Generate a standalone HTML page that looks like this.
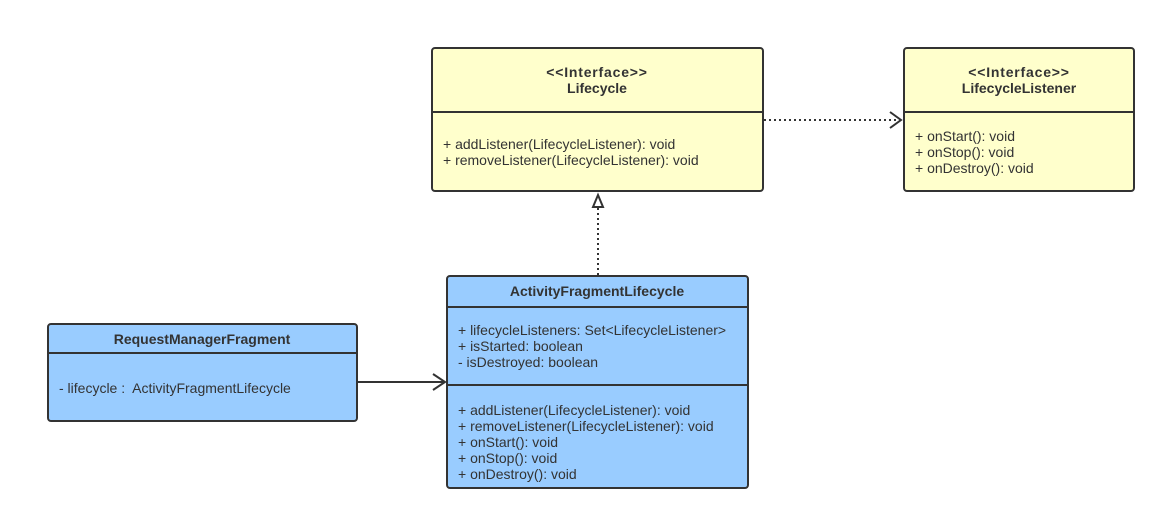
<!DOCTYPE html>
<html><head><meta charset="utf-8"><style>
html,body{margin:0;padding:0;background:#fff;}
svg text{font-family:"Liberation Sans","DejaVu Sans",sans-serif;font-size:14px;fill:#333;}
.b{font-weight:bold;}
.i{letter-spacing:0.8px;}
</style></head><body>
<svg width="1165" height="520" xmlns="http://www.w3.org/2000/svg">
<!-- Lifecycle -->
<rect x="432" y="48" width="331" height="143" rx="3" fill="#ffffcc" stroke="#333" stroke-width="2"/>
<line x1="432" y1="112" x2="763" y2="112" stroke="#333" stroke-width="2"/>
<text x="597" y="77" text-anchor="middle" class="b i">&lt;&lt;Interface&gt;&gt;</text>
<text x="597" y="93" text-anchor="middle" class="b">Lifecycle</text>
<text x="443" y="149">+ addListener(LifecycleListener): void</text>
<text x="443" y="165">+ removeListener(LifecycleListener): void</text>
<!-- LifecycleListener -->
<rect x="904" y="48" width="230" height="143" rx="3" fill="#ffffcc" stroke="#333" stroke-width="2"/>
<line x1="904" y1="112" x2="1134" y2="112" stroke="#333" stroke-width="2"/>
<text x="1019" y="77" text-anchor="middle" class="b i">&lt;&lt;Interface&gt;&gt;</text>
<text x="1019" y="93" text-anchor="middle" class="b">LifecycleListener</text>
<text x="915" y="141">+ onStart(): void</text>
<text x="915" y="157">+ onStop(): void</text>
<text x="915" y="173">+ onDestroy(): void</text>
<!-- AFL -->
<rect x="447" y="276" width="301" height="212" rx="3" fill="#99ccff" stroke="#333" stroke-width="2"/>
<line x1="447" y1="307" x2="748" y2="307" stroke="#333" stroke-width="2"/>
<line x1="447" y1="385" x2="748" y2="385" stroke="#333" stroke-width="2"/>
<text x="597" y="296" text-anchor="middle" class="b">ActivityFragmentLifecycle</text>
<text x="458" y="335">+ lifecycleListeners: Set&lt;LifecycleListener&gt;</text>
<text x="458" y="351">+ isStarted: boolean</text>
<text x="458" y="367">- isDestroyed: boolean</text>
<text x="458" y="415">+ addListener(LifecycleListener): void</text>
<text x="458" y="431">+ removeListener(LifecycleListener): void</text>
<text x="458" y="447">+ onStart(): void</text>
<text x="458" y="463">+ onStop(): void</text>
<text x="458" y="479">+ onDestroy(): void</text>
<!-- RMF -->
<rect x="48" y="324" width="309" height="97" rx="3" fill="#99ccff" stroke="#333" stroke-width="2"/>
<line x1="48" y1="353" x2="357" y2="353" stroke="#333" stroke-width="2"/>
<text x="202" y="344" text-anchor="middle" class="b">RequestManagerFragment</text>
<text x="59" y="393" xml:space="preserve">- lifecycle :  ActivityFragmentLifecycle</text>
<!-- connectors -->
<line x1="764" y1="120" x2="901" y2="120" stroke="#333" stroke-width="2" stroke-dasharray="2,3"/>
<polyline points="890,112 901,120 890,128" fill="none" stroke="#333" stroke-width="2"/>
<line x1="598" y1="275" x2="598" y2="206" stroke="#333" stroke-width="2" stroke-dasharray="2,3"/>
<polygon points="598,195 593,207 603,207" fill="#fff" stroke="#333" stroke-width="2"/>
<line x1="358" y1="382" x2="445" y2="382" stroke="#333" stroke-width="2"/>
<polyline points="433,374 445,382 433,390" fill="none" stroke="#333" stroke-width="2"/>
</svg>
</body></html>
